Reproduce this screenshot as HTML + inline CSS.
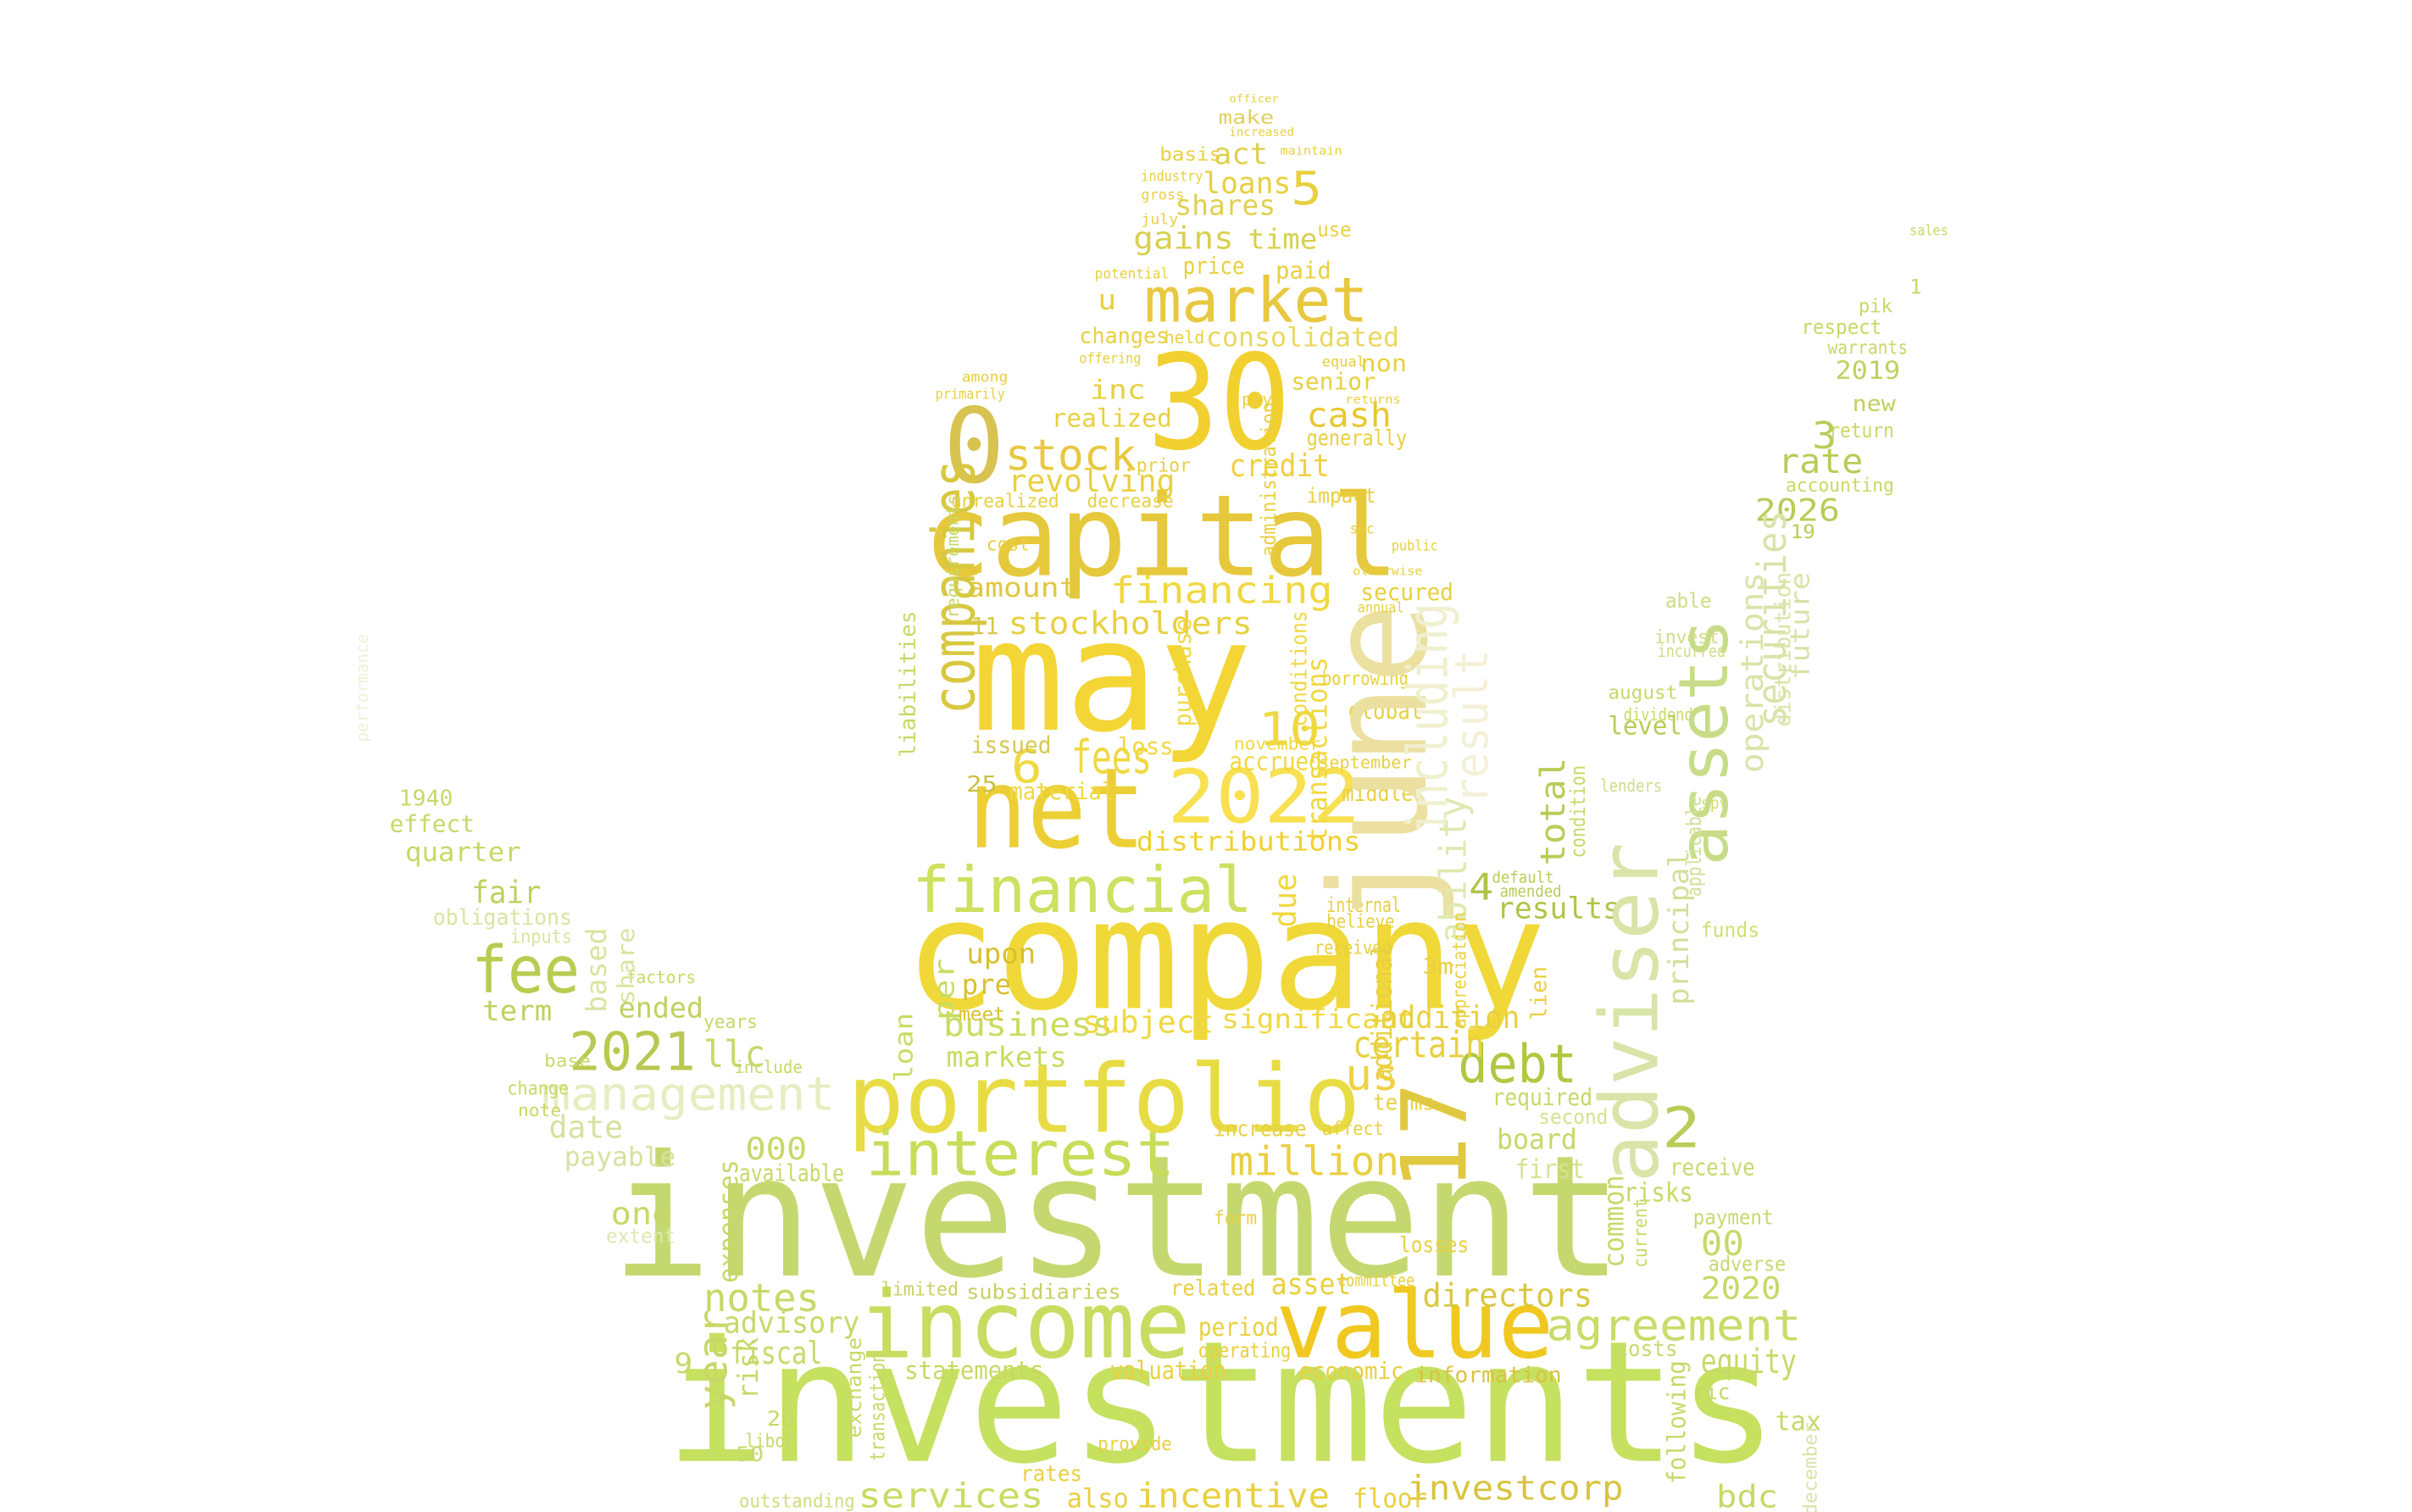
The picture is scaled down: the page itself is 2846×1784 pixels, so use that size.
<!DOCTYPE html>
<html><head><meta charset="utf-8"><style>
html,body{margin:0;padding:0;background:#fff;}
svg{display:block;}
text{font-family:"DejaVu Sans Mono","Liberation Mono",monospace;}
</style></head>
<body>
<svg id="cloud" width="2846" height="1784" viewBox="0 0 1560 978" preserveAspectRatio="none" xmlns="http://www.w3.org/2000/svg">
<rect width="1560" height="978" fill="#ffffff"/>
<g id="words"></g>
</svg>
<script>
// word, x, y, size, length, color, rotated
const words = [
["investments",430,945,109,720,"#c6e060",0],
["investment",395,825,109,655,"#c5d870",0],
["company",585,652,99,415,"#f0d838",0],
["may",628,472,100,182,"#f3d535",0],
["capital",597,372,73,308,"#e6c83c",0],
["net",626,548,72,115,"#eccf35",0],
["30",742,290,85,93,"#f2d030",0],
["0",610,312,67,40,"#d8c250",0],
["portfolio",548,732,61,332,"#e8dc45",0],
["value",825,878,60,180,"#f0c820",0],
["income",555,878,60,215,"#c8dc60",0],
["financial",590,590,41,220,"#cde060",0],
["2022",755,532,48,125,"#f8e050",0],
["market",740,208,40,145,"#e8c840",0],
["interest",560,760,40,200,"#c8dc5a",0],
["fee",305,642,42,70,"#b8cc50",0],
["2021",368,692,34,82,"#b8c850",0],
["management",350,718,30,190,"#e8ecc0",0],
["debt",943,700,34,77,"#b0c840",0],
["agreement",1000,867,28,165,"#c8dc68",0],
["million",795,760,26,110,"#e8d040",0],
["stock",650,304,28,85,"#e8c840",0],
["notes",455,848,25,75,"#c8d868",0],
["services",555,975,22,120,"#c8dc60",0],
["incentive",735,975,22,125,"#e8d040",0],
["investcorp",910,970,22,140,"#d8c440",0],
["business",610,670,21,110,"#c8dc60",0],
["subject",700,668,20,85,"#f0d840",0],
["distributions",735,550,17,145,"#f0d030",0],
["stockholders",652,410,20,158,"#e8d040",0],
["financing",718,390,24,144,"#f0d840",0],
["revolving",652,318,20,108,"#e8d040",0],
["consolidated",780,224,17,125,"#e8d860",0],
["realized",680,276,16,78,"#e8d040",0],
["credit",795,308,20,65,"#f0d040",0],
["cash",845,276,22,55,"#e8c830",0],
["shares",760,139,18,65,"#e0d050",0],
["loans",778,125,19,57,"#e8d040",0],
["act",785,106,19,35,"#e0d050",0],
["gains",733,161,20,65,"#d8d050",0],
["time",807,161,18,45,"#d8d050",0],
["5",835,132,30,20,"#e8d040",0],
["price",765,177,15,40,"#e8d040",0],
["paid",825,180,15,36,"#e8d040",0],
["make",788,80,12,36,"#e0d060",0],
["u",710,200,18,12,"#e8d040",0],
["inc",705,258,17,36,"#e8d040",0],
["changes",698,222,14,58,"#e8d040",0],
["senior",835,252,15,55,"#e8d040",0],
["non",880,240,15,30,"#e8d040",0],
["generally",845,288,14,65,"#e8d040",0],
["impact",845,325,13,45,"#e8d040",0],
["secured",880,388,15,60,"#e8d040",0],
["amount",625,386,17,72,"#e0c840",0],
["fees",693,500,30,52,"#f0d840",0],
["6",654,506,30,20,"#f0d840",0],
["10",814,482,30,40,"#f0d840",0],
["loss",723,488,15,36,"#f0d840",0],
["issued",628,487,15,52,"#d8c850",0],
["material",653,517,15,68,"#f0d840",0],
["25",625,512,14,20,"#c8c040",0],
["accrued",795,498,16,60,"#f0d840",0],
["november",798,485,11,56,"#f0d840",0],
["september",853,497,11,60,"#e8d040",0],
["global",872,465,15,48,"#e8d040",0],
["borrowing",855,443,12,56,"#e8d040",0],
["middle",868,518,14,46,"#e8d040",0],
["internal",858,590,13,48,"#e8d040",0],
["believe",858,600,12,44,"#e8d040",0],
["received",850,617,12,50,"#e8d040",0],
["3m",920,630,14,20,"#e8d040",0],
["upon",625,623,18,45,"#d8c030",0],
["pre",622,643,18,32,"#d8c030",0],
["meet",620,660,12,30,"#d8c030",0],
["markets",612,690,18,78,"#c8dc60",0],
["significant",790,665,17,125,"#f0d840",0],
["addition",893,665,20,90,"#e8d040",0],
["certain",875,684,24,85,"#e8d040",0],
["us",870,705,28,35,"#f0d040",0],
["terms",888,718,14,40,"#e8d040",0],
["affect",855,734,12,40,"#e8d040",0],
["increase",785,735,14,60,"#e8d040",0],
["required",965,715,15,65,"#c8d868",0],
["second",995,727,13,45,"#d8e090",0],
["board",968,743,18,52,"#c8d868",0],
["first",980,762,17,45,"#d8e090",0],
["2",1075,742,36,25,"#b8cc58",0],
["receive",1080,760,15,55,"#c8d870",0],
["risks",1050,777,17,45,"#c8d868",0],
["payment",1095,792,13,52,"#c8d870",0],
["00",1100,812,22,28,"#c8d868",0],
["adverse",1105,822,13,50,"#c8d870",0],
["2020",1100,840,20,52,"#c8d868",0],
["costs",1045,877,14,40,"#c8d870",0],
["equity",1100,888,22,62,"#c8d868",0],
["ric",1095,905,14,24,"#c8d868",0],
["tax",1148,925,17,30,"#c8d868",0],
["bdc",1110,975,20,40,"#c8d868",0],
["directors",920,845,21,110,"#d8c840",0],
["losses",905,810,14,45,"#e8d040",0],
["committee",865,832,11,50,"#e8d040",0],
["economic",840,892,15,68,"#e8d040",0],
["information",915,894,14,95,"#d8c440",0],
["asset",822,837,19,52,"#e8d040",0],
["related",757,838,14,55,"#e8d040",0],
["period",775,864,16,52,"#e8d040",0],
["operating",775,878,13,60,"#e8d040",0],
["form",785,792,12,28,"#e8d040",0],
["floor",875,975,17,48,"#e8d040",0],
["also",690,975,17,40,"#e8d040",0],
["provide",710,938,12,48,"#e8d040",0],
["rates",660,958,14,40,"#e8d040",0],
["subsidiaries",625,840,13,100,"#c8d060",0],
["limited",570,838,12,50,"#c8d060",0],
["statements",585,892,16,90,"#c8d860",0],
["valuation",718,892,16,75,"#e8d040",0],
["outstanding",478,975,12,75,"#d0dc80",0],
["fiscal",472,882,20,60,"#c8d868",0],
["9",436,888,18,12,"#c8d868",0],
["advisory",468,862,19,88,"#c8d868",0],
["50",476,945,13,18,"#c8d868",0],
["20",496,922,13,18,"#c8d868",0],
["libor",482,936,12,32,"#c8d868",0],
["000",482,750,20,40,"#c8d868",0],
["available",478,764,15,68,"#c8d868",0],
["one",395,792,20,40,"#c8d868",0],
["extent",392,804,13,45,"#e0e8b0",0],
["date",355,736,20,48,"#d8e0a0",0],
["payable",365,754,17,72,"#d8e0a0",0],
["llc",455,690,24,40,"#c8d868",0],
["ended",400,658,18,55,"#c0d060",0],
["years",455,665,12,35,"#c8d868",0],
["include",475,694,11,44,"#c8d868",0],
["term",312,660,18,45,"#c0d060",0],
["fair",305,584,20,45,"#c0d060",0],
["obligations",280,598,14,90,"#d8e4a0",0],
["inputs",330,610,12,40,"#d8e4a0",0],
["factors",405,636,11,45,"#c8d868",0],
["quarter",262,557,17,75,"#c8d868",0],
["effect",252,538,15,55,"#c8d868",0],
["1940",258,521,14,35,"#c8d868",0],
["change",328,708,12,40,"#c8d868",0],
["note",335,722,11,28,"#c8d868",0],
["base",352,690,11,30,"#c8d868",0],
["sales",1235,152,9,25,"#c8d868",0],
["1",1235,190,13,8,"#c8d868",0],
["pik",1202,202,12,22,"#c8d868",0],
["respect",1165,216,13,52,"#c8d868",0],
["warrants",1182,229,12,52,"#c8d868",0],
["2019",1187,245,16,42,"#c0d060",0],
["new",1198,266,14,28,"#c0d060",0],
["return",1183,283,13,42,"#c8d868",0],
["3",1172,290,24,16,"#b8cc58",0],
["rate",1150,306,22,55,"#b8cc58",0],
["accounting",1155,318,12,70,"#c8d868",0],
["2026",1135,337,20,55,"#b8cc58",0],
["19",1158,348,12,16,"#b8cc58",0],
["invest",1070,416,12,42,"#d0dc88",0],
["incurred",1072,425,11,44,"#d0dc88",0],
["able",1077,393,13,30,"#d0dc88",0],
["august",1040,452,12,45,"#c8d868",0],
["dividend",1050,466,11,45,"#c8d868",0],
["level",1040,475,16,48,"#b8cc58",0],
["lenders",1035,512,11,40,"#d0dc88",0],
["results",968,594,19,80,"#b0c448",0],
["4",950,582,24,16,"#b0c448",0],
["default",965,571,10,40,"#b8cc58",0],
["amended",970,580,10,40,"#b8cc58",0],
["funds",1100,606,13,38,"#d0e070",0],
["spv",1100,523,10,18,"#d0e070",0],
["june",922,600,87,210,"#ece0a0",1],
["including",936,540,36,150,"#f0f0d0",1],
["result",962,520,30,100,"#f4f0d8",1],
["ability",948,610,24,95,"#e0e8b0",1],
["adviser",1072,765,52,220,"#d8e4a8",1],
["assets",1117,560,44,160,"#c8dc88",1],
["securities",1155,470,26,140,"#d8e4a8",1],
["operations",1140,500,20,130,"#d8e4a8",1],
["distribution",1158,470,14,100,"#d8e4a8",1],
["future",1170,440,17,70,"#d8e4a8",1],
["principal",1092,650,18,100,"#d0e098",1],
["applicable",1100,580,13,65,"#d0e098",1],
["total",1012,560,22,70,"#b8cc58",1],
["condition",1025,555,13,60,"#c8d868",1],
["common",1050,820,18,60,"#c8d868",1],
["current",1065,820,12,45,"#c8d868",1],
["following",1090,960,16,80,"#c8d868",1],
["companies",630,462,38,165,"#d8c840",1],
["17",948,770,58,70,"#e0c840",1],
["transactions",858,545,18,120,"#f0d840",1],
["conditions",845,470,14,75,"#f0d840",1],
["due",838,600,20,35,"#f0d840",1],
["additional",900,700,18,90,"#e8d040",1],
["appreciation",948,665,12,75,"#e8d040",1],
["lien",1000,660,14,35,"#e8d040",1],
["purchase",770,470,15,70,"#f0d840",1],
["administration",825,360,13,100,"#e8d040",1],
["liabilities",592,490,14,95,"#c8d868",1],
["requirements",620,400,11,80,"#c8d868",1],
["per",617,660,18,40,"#c8dc60",1],
["loan",590,700,16,45,"#c8dc60",1],
["expenses",477,830,17,80,"#c8d868",1],
["year",470,912,26,65,"#c8d868",1],
["risk",490,905,18,40,"#c8d868",1],
["based",392,655,18,55,"#d8e4a0",1],
["share",410,650,15,50,"#d8e4a0",1],
["exchange",557,930,13,65,"#c8d868",1],
["transaction",572,945,13,70,"#c8d868",1],
["december",1175,980,12,60,"#d8e4a8",1],
["performance",238,480,10,70,"#eef2d8",1],
["basis",750,104,12,40,"#e8d040",0],
["industry",738,117,9,40,"#e8d040",0],
["gross",738,129,9,28,"#e8d040",0],
["july",738,145,9,24,"#e8d040",0],
["use",852,153,13,22,"#e8d040",0],
["potential",708,180,9,48,"#e8d040",0],
["offering",698,235,9,40,"#e8d040",0],
["held",753,222,11,26,"#e8d040",0],
["equal",855,237,9,28,"#e8d040",0],
["among",622,247,9,30,"#e8d040",0],
["primarily",605,258,9,45,"#e8d040",0],
["pay",803,262,11,20,"#e8d040",0],
["returns",870,261,8,36,"#e8d040",0],
["prior",735,305,12,35,"#e8d040",0],
["decrease",703,328,12,56,"#e8d040",0],
["unrealized",615,328,12,70,"#e8d040",0],
["cost",638,356,12,28,"#e8d040",0],
["otherwise",875,372,8,45,"#e8d040",0],
["annual",878,396,9,30,"#e8d040",0],
["11",628,410,15,18,"#d8c850",0],
["sec",873,345,9,16,"#e8d040",0],
["public",900,356,9,30,"#e8d040",0],
["officer",795,66,7,32,"#e8d040",0],
["increased",795,88,8,42,"#e8d040",0],
["maintain",828,100,8,40,"#e8d040",0]
];

const g = document.getElementById('words');
const NS = 'http://www.w3.org/2000/svg';
words.forEach(function(w){
  const t = document.createElementNS(NS, 'text');
  t.textContent = w[0];
  t.setAttribute('x', w[1]);
  t.setAttribute('y', w[2]);
  t.setAttribute('font-size', w[3]);
  t.setAttribute('textLength', w[4]);
  t.setAttribute('lengthAdjust', 'spacingAndGlyphs');
  t.setAttribute('fill', w[5]);
  if (w[6]) t.setAttribute('transform', 'rotate(-90 ' + w[1] + ' ' + w[2] + ')');
  
  
  g.appendChild(t);
});
</script>
</body></html>
